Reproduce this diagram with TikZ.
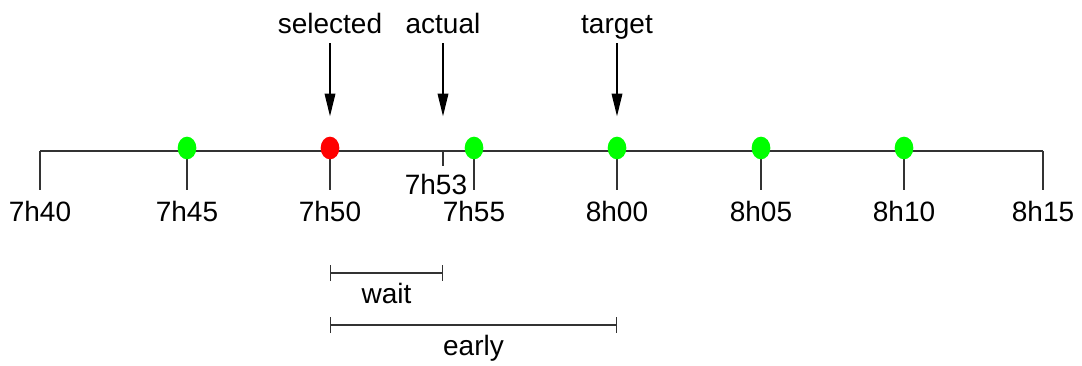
\documentclass[tikz,border=0pt]{standalone}
\usepackage{fontspec}
\setmainfont{Liberation Sans}
\usetikzlibrary{positioning,arrows.meta,shapes.geometric}

\begin{document}
\begin{tikzpicture}
                    [x=0.75pt, y=-0.75pt,
                    axis/.style={line width=1pt, draw=black!80},
                    lbl/.style={font=\fontsize{21}{25}\selectfont,
                        inner sep=0pt},
                    toplbl/.style={lbl, anchor=base,
                        text depth=0pt, inner ysep=7.5pt},
                    stop/.style={ellipse, inner sep=0pt,
                        minimum width=14pt, minimum height=17pt},
                    ontime/.style={stop, fill=green},
                    picked/.style={stop, fill=red},
                    pointer/.style={-{Triangle[length=17pt,width=8pt]},
                        line width=1pt},
                    span/.style={{Bar[width=12pt]}-{Bar[width=12pt]},
                        line width=1pt, draw=black!80}]

                    \useasboundingbox (0,0) rectangle (1082,365);

                    % time axis with its ticks
                    \foreach \name/\x/\txt in {t40/40/7h40, t45/187/7h45,
                        t50/330/7h50, t55/474/7h55, t00/617/8h00,
                        t05/761/8h05, t10/904/8h10, t15/1043/8h15}
                    {
                        \coordinate (\name) at (\x,151);
                        \coordinate (\name-end) at (\x,190);
                        \draw[axis] (\name) -- (\name-end);
                        \node[lbl, below=8.5pt of \name-end]
                            (\name-l) {\txt};
                    }
                    \draw[axis] (t40) -- (t15);

                    \coordinate (t53) at (443,151);
                    \coordinate (t53-end) at (443,166);
                    \draw[axis] (t53) -- (t53-end);
                    \node[lbl] (t53-l) at (436,184) {7h53};

                    % departures
                    \foreach \name in {t45, t55, t00, t05, t10}
                        \node[ontime, yshift=2.25pt] (d-\name) at (\name) {};
                    \node[picked, yshift=2.25pt] (d-t50) at (t50) {};

                    % markers
                    \node[toplbl] (sel) at (330,33) {selected};
                    \node[toplbl] (act) at (443,33) {actual};
                    \node[toplbl] (tgt) at (617,33) {target};

                    \draw[pointer] (sel.south) -- ++(0,73);
                    \draw[pointer] (act.south) -- ++(0,73);
                    \draw[pointer] (tgt.south) -- ++(0,73);

                    % intervals
                    \coordinate (w0) at (330,273);
                    \coordinate (w1) at (443,273);
                    \coordinate (e0) at (330,325);
                    \coordinate (e1) at (617,325);

                    \draw[span] (w0) --
                        node[lbl, below=7pt] (wait) {wait} (w1);
                    \draw[span] (e0) --
                        node[lbl, below=7pt] (early) {early} (e1);
                \end{tikzpicture}
\end{document}
